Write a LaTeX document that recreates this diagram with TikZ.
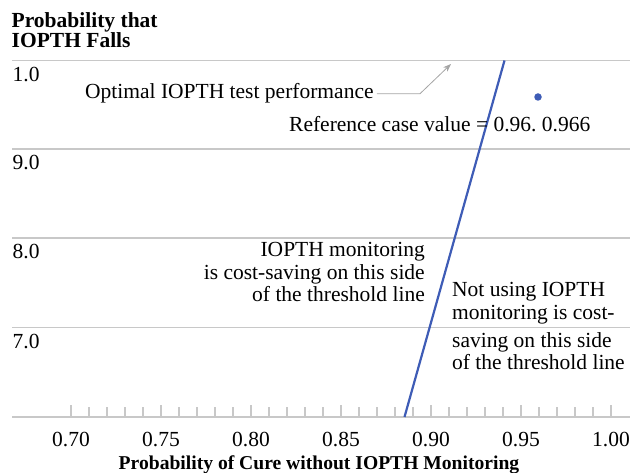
\documentclass[tikz,border=0pt]{standalone}
\usepackage{fontspec}
\setmainfont{Liberation Serif}
\usetikzlibrary{arrows.meta,positioning}

\definecolor{gridgray}{RGB}{200,200,200}
\definecolor{pointgray}{RGB}{165,165,165}
\definecolor{threshblue}{RGB}{62,92,182}

\begin{document}
\begin{tikzpicture}
 [
  x=1pt, y=-1pt,
  txt/.style={inner sep=0pt, font=\fontsize{21.5}{22.5}\selectfont},
  head/.style={inner sep=0pt, font=\fontsize{21.5}{20.5}\selectfont\bfseries},
  grid/.style={draw=gridgray, line width=1.1pt},
  thresh/.style={draw=threshblue, line width=2.2pt},
  pointer/.style={draw=pointgray, line width=0.8pt, -{Stealth[length=8pt,width=6pt]}},
  dot/.style={circle, fill=threshblue, inner sep=0pt, minimum size=7.5pt},
 ]
  \useasboundingbox (0,0) rectangle (630,473);

  % vertical axis title
  \node [head, anchor=north west, align=left] (ytitle) at (11.5,12) {Probability that\\IOPTH Falls};

  % horizontal grid lines and their labels
  \foreach \y/\lab in {60.5/1.0, 149/9.0, 238/8.0, 327.5/7.0}
  {
    \draw [grid] (12,\y) -- (630,\y);
    \node [txt, anchor=north west] (ylab\lab) at (12.5,\y+6.5) {\lab};
  }

  % horizontal axis with ticks
  \draw [grid] (12,417) -- (630,417);
  \foreach \i in {0,...,30}
  {
    \pgfmathsetmacro{\tlen}{ifthenelse(mod(\i,5)==0,12,9.5)}
    \draw [grid] (71+18*\i,417) -- ++(0,-\tlen);
  }
  \foreach \v [count=\i from 0] in {0.70,0.75,0.80,0.85,0.90,0.95,1.00}
    \node [txt, anchor=north] (xlab\i) at (71+90*\i,432) {\v};
  \node [head, font=\fontsize{19.6}{22}\selectfont\bfseries, anchor=base] (xtitle) at (319,469) {Probability of Cure without IOPTH Monitoring};

  % threshold line
  \coordinate (tlow) at (404.5,417);
  \coordinate (thigh) at (504.5,60.5);
  \draw [thresh] (tlow) -- (thigh);

  % reference case
  \node [dot] (refpt) at (538,97) {};
  \node [txt, anchor=base west] (reflbl) at (289,131.5) {Reference case value = 0.96.\ 0.966};

  % optimal test performance
  \node [txt, anchor=base west] (optlbl) at (85,99) {Optimal IOPTH test performance};
  \coordinate (bend) at (420,93.5);
  \coordinate (tip) at (451,64);
  \draw [pointer] ([xshift=3pt]optlbl.east) -- (optlbl.east -| bend) -- (tip);

  % regions
  \node [txt, anchor=north east, align=right] (leftside) at (425,242.5)
    {IOPTH monitoring\\is cost-saving on this side\\of the threshold line};
  \node [txt, anchor=north west, align=left] (rightside) at (452,282.5)
    {Not using IOPTH\\monitoring is cost-\\[5.5pt]saving on this side\\of the threshold line};
\end{tikzpicture}
\end{document}
